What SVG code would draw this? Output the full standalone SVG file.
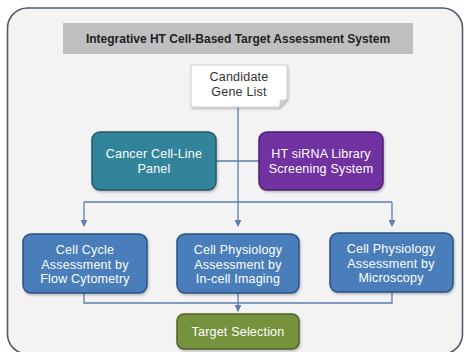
<svg xmlns="http://www.w3.org/2000/svg" width="466" height="352" viewBox="0 0 466 352">
  <defs>
    <marker id="arrow" viewBox="0 0 8 8" refX="7" refY="4" markerWidth="7" markerHeight="7" markerUnits="userSpaceOnUse" orient="auto">
      <path d="M0,0 L8,4 L0,8 Z" fill="#5b7fae"/>
    </marker>
    <filter id="shadow" x="-10%" y="-10%" width="130%" height="140%">
      <feDropShadow dx="1" dy="1.5" stdDeviation="1.1" flood-color="#000" flood-opacity="0.25"/>
    </filter>
  </defs>
  <style>
    text { font-family: "Liberation Sans", Arial, sans-serif; font-size: 12.5px; text-anchor: middle; fill: #ffffff; letter-spacing: 0.2px; }
    .title { font-weight: bold; font-size: 12px; fill: #222222; letter-spacing: 0; }
    .dark { fill: #333333; }
    .box { stroke-width: 1.5; filter: url(#shadow); }
    .teal { fill: #31849b; stroke: #215968; }
    .purple { fill: #7030a0; stroke: #4b2070; }
    .blue { fill: #4a7ebb; stroke: #2c5282; }
    .green { fill: #76923c; stroke: #4f6228; }
    .link { fill: none; stroke: #5b7fae; stroke-width: 1.3; }
  </style>

  <!-- outer frame -->
  <rect x="7.5" y="8" width="455" height="346" rx="20" fill="#f3f3f3" stroke="#525c6b" stroke-width="1.6"/>

  <!-- title bar -->
  <g id="title">
    <rect x="63" y="23" width="350" height="31" fill="#bfbfbf"/>
    <text class="title" x="238" y="43">Integrative HT Cell-Based Target Assessment System</text>
  </g>

  <!-- connectors -->
  <g id="connectors">
    <path class="link" d="M238,107 V226" marker-end="url(#arrow)"/>
    <path class="link" d="M216,161 H259"/>
    <path class="link" d="M84,202 H392"/>
    <path class="link" d="M84,202 V226" marker-end="url(#arrow)"/>
    <path class="link" d="M392,202 V226" marker-end="url(#arrow)"/>
    <path class="link" d="M84,293 V303 H392 V292"/>
    <path class="link" d="M238,293 V311" marker-end="url(#arrow)"/>
  </g>

  <!-- candidate gene list (note shape with folded corner) -->
  <g id="candidate">
    <path d="M191,65 H287 V99 L279,107 H191 Z" fill="#ffffff" stroke="#cfcfcf" stroke-width="1" filter="url(#shadow)"/>
    <path d="M287,99 L280,100 L279,107 Z" fill="#d0d0d0"/>
    <text class="dark" x="239" y="81">Candidate</text>
    <text class="dark" x="239" y="96">Gene List</text>
  </g>

  <g id="cancer">
    <rect class="box teal" x="92" y="132" width="124" height="58" rx="8"/>
    <text x="154" y="158">Cancer Cell-Line</text>
    <text x="154" y="173">Panel</text>
  </g>

  <g id="sirna">
    <rect class="box purple" x="259" y="132" width="124" height="58" rx="8"/>
    <text x="321" y="158">HT siRNA Library</text>
    <text x="321" y="173">Screening System</text>
  </g>

  <g id="flow">
    <rect class="box blue" x="23" y="234" width="124" height="59" rx="8"/>
    <text x="85" y="254">Cell Cycle</text>
    <text x="85" y="268.5">Assessment by</text>
    <text x="85" y="283">Flow Cytometry</text>
  </g>

  <g id="imaging">
    <rect class="box blue" x="177" y="234" width="122" height="59" rx="8"/>
    <text x="238" y="254">Cell Physiology</text>
    <text x="238" y="268.5">Assessment by</text>
    <text x="238" y="283">In-cell Imaging</text>
  </g>

  <g id="microscopy">
    <rect class="box blue" x="330" y="233" width="123" height="59" rx="8"/>
    <text x="391" y="253">Cell Physiology</text>
    <text x="391" y="267.5">Assessment by</text>
    <text x="391" y="282">Microscopy</text>
  </g>

  <g id="target">
    <rect class="box green" x="177" y="314" width="122" height="35" rx="7"/>
    <text x="238" y="336">Target Selection</text>
  </g>
</svg>
